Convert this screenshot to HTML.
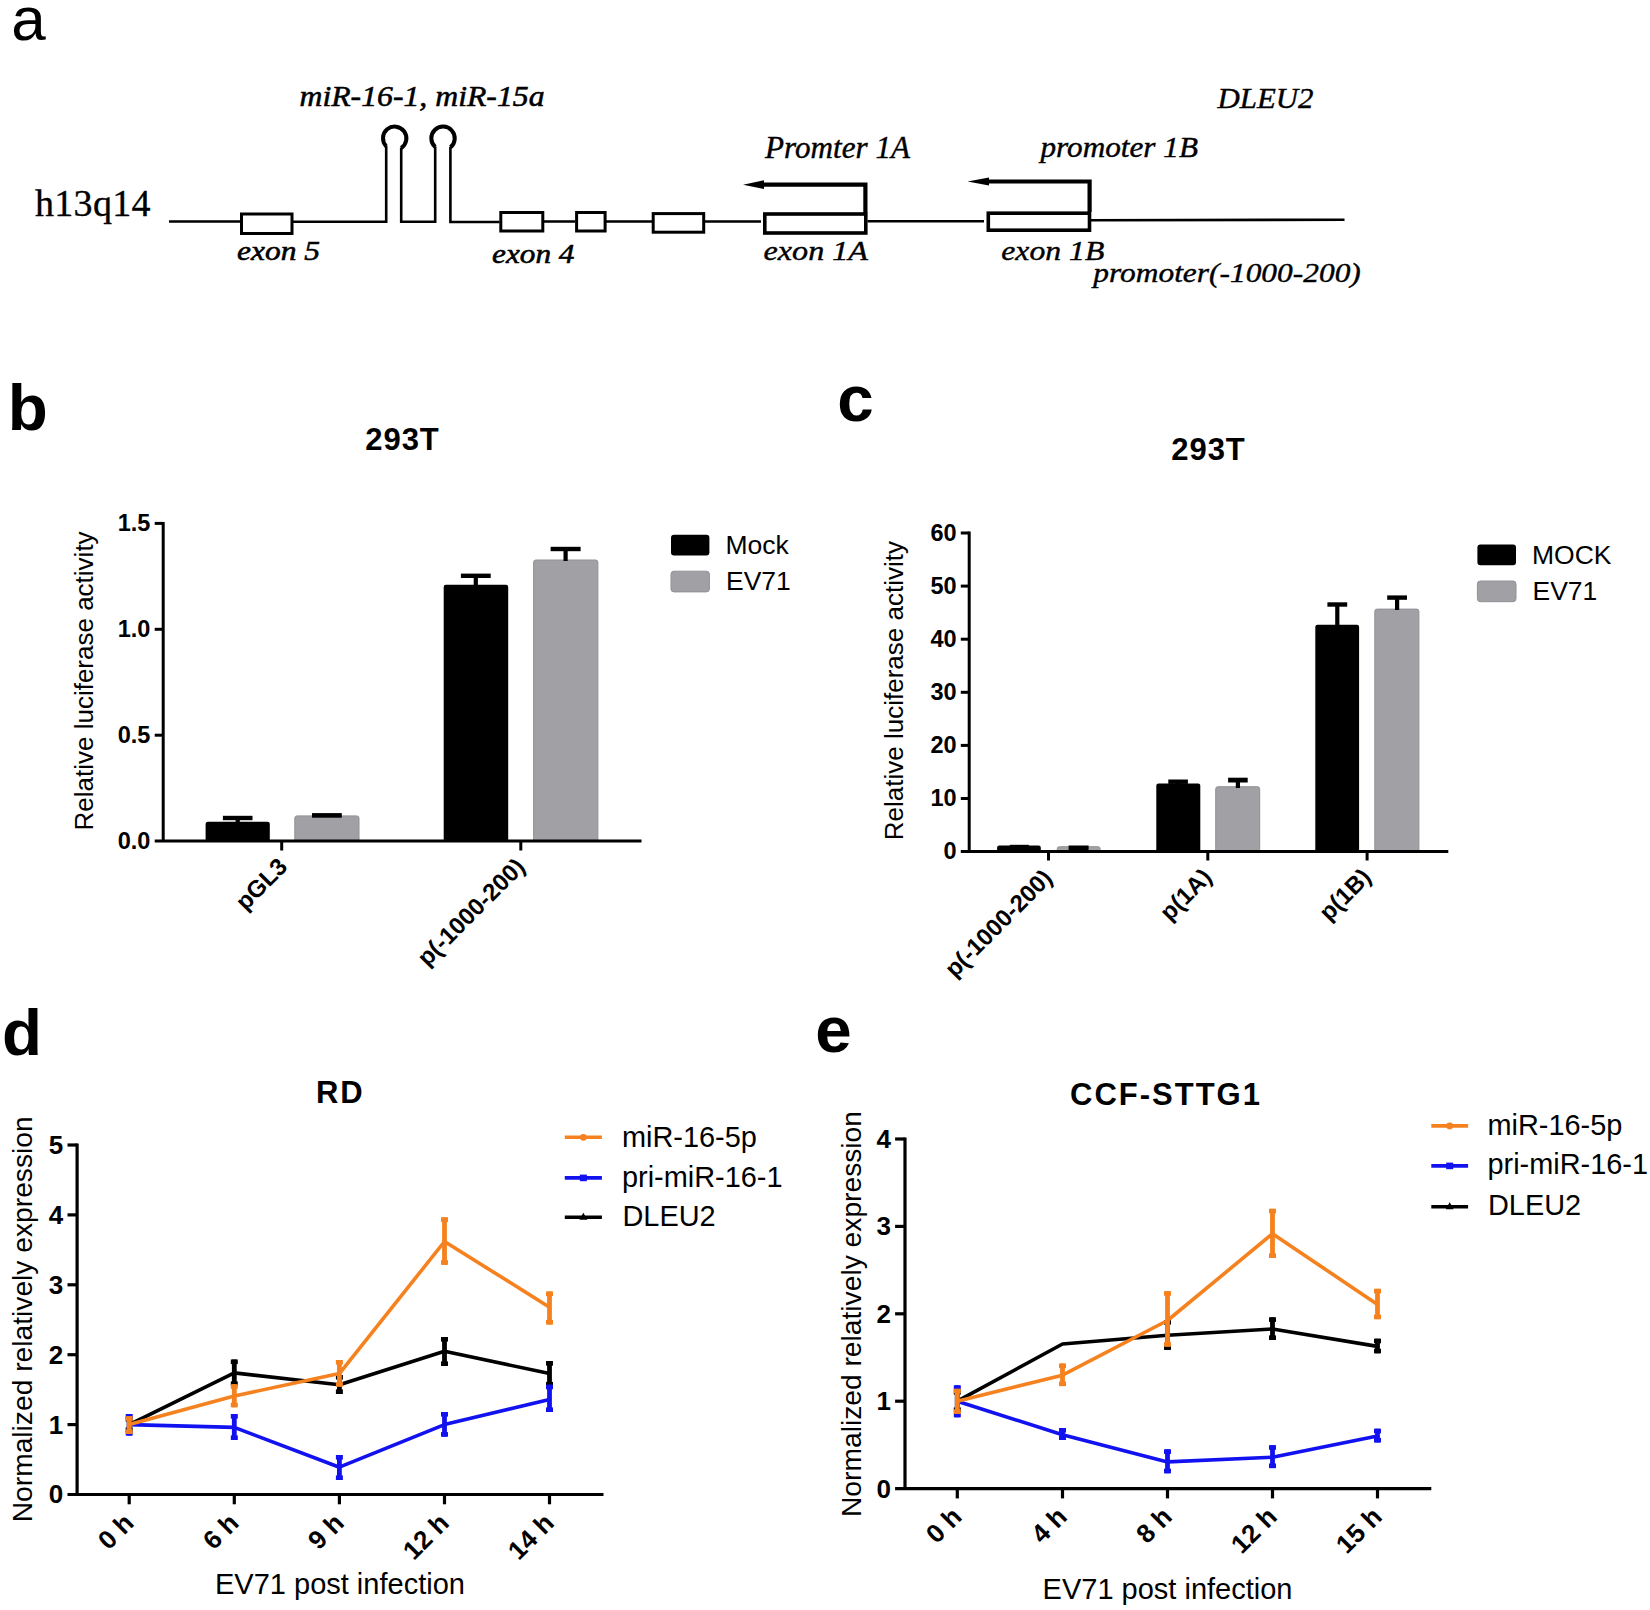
<!DOCTYPE html>
<html lang="en"><head><meta charset="utf-8"><title>Figure</title>
<style>
html,body{margin:0;padding:0;background:#fff}
svg{display:block}
text{fill:#000}
</style></head><body>
<svg width="1650" height="1610" viewBox="0 0 1650 1610">
<rect width="1650" height="1610" fill="#fff"/>
<text x="11.2" y="40" font-family="Liberation Sans, Arial, sans-serif" font-size="62" font-weight="normal" text-anchor="start" >a</text>
<text x="7.8" y="429.8" font-family="Liberation Sans, Arial, sans-serif" font-size="65.5" font-weight="bold" text-anchor="start" >b</text>
<text x="837.3" y="421.2" font-family="Liberation Sans, Arial, sans-serif" font-size="65.5" font-weight="bold" text-anchor="start" >c</text>
<text x="2.1" y="1054.9" font-family="Liberation Sans, Arial, sans-serif" font-size="65.5" font-weight="bold" text-anchor="start" >d</text>
<text x="815.2" y="1052.2" font-family="Liberation Sans, Arial, sans-serif" font-size="65.5" font-weight="bold" text-anchor="start" >e</text>
<g stroke="#000" fill="none" stroke-width="2.6">
<path d="M169 221.5H240M293 221.8H386.2V146M401.2 147.5V221.8H435.2V146.5M450.4 147V222H499.5M544 221.5H575M606 221.5H652M705 221.5H761M867.5 221.3H984M1091 220.3L1344.5 219.7"/>
</g>
<g stroke="#000" fill="none" stroke-width="3">
<path d="M386.2 146.3A11.7 11.7 0 1 1 401.2 148" stroke-width="4"/>
<path d="M435.2 147A11.7 11.7 0 1 1 450.4 147.4" stroke-width="4"/>
<rect x="241.5" y="214" width="50.5" height="19.5"/>
<rect x="500.8" y="212.5" width="42" height="18.5"/>
<rect x="576.6" y="212.5" width="28.5" height="18.5"/>
<rect x="653.2" y="213.6" width="50.5" height="18.6"/>
</g>
<g stroke="#000" fill="none" stroke-width="3.6">
<rect x="764.8" y="214" width="101" height="19"/>
<rect x="988.3" y="213.2" width="101.2" height="17"/>
</g>
<g stroke="#000" fill="none" stroke-width="4.2" stroke-linejoin="miter">
<path d="M760 184.7H865.4V213"/>
<path d="M985 181.5H1089.6V212"/>
</g>
<path d="M743 184.7L764 180.3V189.1Z" fill="#000"/>
<path d="M967.5 181.5L989 177.5V185.5Z" fill="#000"/>
<text x="35" y="215.5" font-family="Liberation Serif, Times New Roman, serif" font-size="38" font-weight="normal" text-anchor="start" textLength="115.5" lengthAdjust="spacing" stroke="#000" stroke-width="0.35">h13q14</text>
<text x="299.5" y="106.0" font-family="Liberation Serif, Times New Roman, serif" font-size="29" font-weight="normal" text-anchor="start" textLength="245" lengthAdjust="spacingAndGlyphs" font-style="italic" stroke="#000" stroke-width="0.55">miR-16-1, miR-15a</text>
<text x="237" y="259.9" font-family="Liberation Serif, Times New Roman, serif" font-size="26.8" font-weight="normal" text-anchor="start" textLength="83" lengthAdjust="spacingAndGlyphs" font-style="italic" stroke="#000" stroke-width="0.55">exon 5</text>
<text x="492" y="262.8" font-family="Liberation Serif, Times New Roman, serif" font-size="26.8" font-weight="normal" text-anchor="start" textLength="82.5" lengthAdjust="spacingAndGlyphs" font-style="italic" stroke="#000" stroke-width="0.55">exon 4</text>
<text x="765" y="157.8" font-family="Liberation Serif, Times New Roman, serif" font-size="30.5" font-weight="normal" text-anchor="start" textLength="145" lengthAdjust="spacingAndGlyphs" font-style="italic" stroke="#000" stroke-width="0.4">Promter 1A</text>
<text x="763.5" y="260.3" font-family="Liberation Serif, Times New Roman, serif" font-size="27.5" font-weight="normal" text-anchor="start" textLength="104.5" lengthAdjust="spacingAndGlyphs" font-style="italic" stroke="#000" stroke-width="0.4">exon 1A</text>
<text x="1040.5" y="157" font-family="Liberation Serif, Times New Roman, serif" font-size="29" font-weight="normal" text-anchor="start" textLength="157.5" lengthAdjust="spacingAndGlyphs" font-style="italic" stroke="#000" stroke-width="0.4">promoter 1B</text>
<text x="1217.5" y="107.5" font-family="Liberation Serif, Times New Roman, serif" font-size="29.5" font-weight="normal" text-anchor="start" textLength="96" lengthAdjust="spacingAndGlyphs" font-style="italic" stroke="#000" stroke-width="0.4">DLEU2</text>
<text x="1001.3" y="259.6" font-family="Liberation Serif, Times New Roman, serif" font-size="28" font-weight="normal" text-anchor="start" textLength="103" lengthAdjust="spacingAndGlyphs" font-style="italic" stroke="#000" stroke-width="0.4">exon 1B</text>
<text x="1093.3" y="282.4" font-family="Liberation Serif, Times New Roman, serif" font-size="28" font-weight="normal" text-anchor="start" textLength="267.5" lengthAdjust="spacingAndGlyphs" font-style="italic" stroke="#000" stroke-width="0.4">promoter(-1000-200)</text>
<text x="150.3" y="848.9" font-family="Liberation Sans, Arial, sans-serif" font-size="23.5" font-weight="bold" text-anchor="end" >0.0</text>
<text x="150.3" y="743.0" font-family="Liberation Sans, Arial, sans-serif" font-size="23.5" font-weight="bold" text-anchor="end" >0.5</text>
<text x="150.3" y="637.0999999999999" font-family="Liberation Sans, Arial, sans-serif" font-size="23.5" font-weight="bold" text-anchor="end" >1.0</text>
<text x="150.3" y="531.1999999999999" font-family="Liberation Sans, Arial, sans-serif" font-size="23.5" font-weight="bold" text-anchor="end" >1.5</text>
<path d="M205.6 841.1V823.9000000000001Q205.6 821.7 207.79999999999998 821.7H267.6Q269.8 821.7 269.8 823.9000000000001V841.1Z" fill="#000"/>
<path d="M294.8 841.1V818.1Q294.8 815.9 297.0 815.9H356.8Q359 815.9 359 818.1V841.1Z" fill="#a1a0a5" stroke="#929197" stroke-width="1"/>
<path d="M443.7 841.1V587.0Q443.7 584.8 445.9 584.8H506.0Q508.2 584.8 508.2 587.0V841.1Z" fill="#000"/>
<path d="M533.6 841.1V562.2Q533.6 560 535.8000000000001 560H595.6999999999999Q597.9 560 597.9 562.2V841.1Z" fill="#a1a0a5" stroke="#929197" stroke-width="1"/>
<rect x="222.89999999999998" y="815.8" width="29.6" height="4.4" fill="#000"/>
<rect x="235.6" y="818" width="4.2" height="4" fill="#000"/>
<rect x="312.0" y="813.1" width="29.8" height="4.6" fill="#000"/>
<rect x="324.79999999999995" y="815.4" width="4.2" height="0.6000000000000227" fill="#000"/>
<rect x="460.90000000000003" y="573.5999999999999" width="29.8" height="4.4" fill="#000"/>
<rect x="473.7" y="575.8" width="4.2" height="10.200000000000045" fill="#000"/>
<rect x="550.6" y="546.8" width="30" height="4.4" fill="#000"/>
<rect x="563.5" y="549" width="4.2" height="12" fill="#000"/>
<g stroke="#000" stroke-width="3" fill="none">
<path d="M163.2 521.9V841.1"/>
<path d="M154.7 841.1H641.5"/>
<path d="M154.7 735.2H163.2"/>
<path d="M154.7 629.3H163.2"/>
<path d="M154.7 523.4H163.2"/>
<path d="M281.7 841.1V850.5"/>
<path d="M520.8 841.1V850.5"/>
</g>
<text x="402" y="450" font-family="Liberation Sans, Arial, sans-serif" font-size="31" font-weight="bold" text-anchor="middle" textLength="73.5" lengthAdjust="spacing" >293T</text>
<text x="0" y="0" transform="translate(93.1 830.5) rotate(-90)" font-family="Liberation Sans, Arial, sans-serif" font-size="26" font-weight="normal" text-anchor="start" >Relative luciferase activity</text>
<text x="0" y="0" transform="translate(288.8 868) rotate(-45)" font-family="Liberation Sans, Arial, sans-serif" font-size="24" font-weight="bold" text-anchor="end" >pGL3</text>
<text x="0" y="0" transform="translate(526.3 868.3) rotate(-45)" font-family="Liberation Sans, Arial, sans-serif" font-size="24" font-weight="bold" text-anchor="end" >p(-1000-200)</text>
<rect x="671" y="534.8" width="38.4" height="20.7" rx="3" fill="#000"/>
<rect x="671" y="571.2" width="38.4" height="20.7" rx="3" fill="#a1a0a5" stroke="#929197" stroke-width="1"/>
<text x="725.5" y="553.6" font-family="Liberation Sans, Arial, sans-serif" font-size="26.5" font-weight="normal" text-anchor="start" >Mock</text>
<text x="726" y="590.3" font-family="Liberation Sans, Arial, sans-serif" font-size="26.5" font-weight="normal" text-anchor="start" >EV71</text>
<text x="956.7" y="859.4" font-family="Liberation Sans, Arial, sans-serif" font-size="23.5" font-weight="bold" text-anchor="end" >0</text>
<text x="956.7" y="806.3" font-family="Liberation Sans, Arial, sans-serif" font-size="23.5" font-weight="bold" text-anchor="end" >10</text>
<text x="956.7" y="753.1999999999999" font-family="Liberation Sans, Arial, sans-serif" font-size="23.5" font-weight="bold" text-anchor="end" >20</text>
<text x="956.7" y="700.0999999999999" font-family="Liberation Sans, Arial, sans-serif" font-size="23.5" font-weight="bold" text-anchor="end" >30</text>
<text x="956.7" y="647.0" font-family="Liberation Sans, Arial, sans-serif" font-size="23.5" font-weight="bold" text-anchor="end" >40</text>
<text x="956.7" y="593.9" font-family="Liberation Sans, Arial, sans-serif" font-size="23.5" font-weight="bold" text-anchor="end" >50</text>
<text x="956.7" y="540.8" font-family="Liberation Sans, Arial, sans-serif" font-size="23.5" font-weight="bold" text-anchor="end" >60</text>
<path d="M997.1 851.6V847.8000000000001Q997.1 845.6 999.3000000000001 845.6H1038.6Q1040.8 845.6 1040.8 847.8000000000001V851.6Z" fill="#000"/>
<path d="M1057.2 851.6V848.9000000000001Q1057.2 846.7 1059.4 846.7H1098.0Q1100.2 846.7 1100.2 848.9000000000001V851.6Z" fill="#a1a0a5" stroke="#929197" stroke-width="1"/>
<path d="M1156.3 851.6V785.7Q1156.3 783.5 1158.5 783.5H1198.1Q1200.3 783.5 1200.3 785.7V851.6Z" fill="#000"/>
<path d="M1215.7 851.6V788.9000000000001Q1215.7 786.7 1217.9 786.7H1257.5Q1259.7 786.7 1259.7 788.9000000000001V851.6Z" fill="#a1a0a5" stroke="#929197" stroke-width="1"/>
<path d="M1315.3 851.6V627.0Q1315.3 624.8 1317.5 624.8H1356.8999999999999Q1359.1 624.8 1359.1 627.0V851.6Z" fill="#000"/>
<path d="M1374.8 851.6V611.3000000000001Q1374.8 609.1 1377.0 609.1H1416.7Q1418.9 609.1 1418.9 611.3000000000001V851.6Z" fill="#a1a0a5" stroke="#929197" stroke-width="1"/>
<rect x="1009.8" y="844.8" width="19.0" height="3" fill="#000"/>
<rect x="1068.6" y="845.5" width="20" height="4.6" fill="#000"/>
<rect x="1168.3" y="779.5" width="19.6" height="4.4" fill="#000"/>
<rect x="1176.0" y="781.7" width="4.2" height="2.2999999999999545" fill="#000"/>
<rect x="1228.1000000000001" y="777.7" width="19.6" height="4.8" fill="#000"/>
<rect x="1235.8000000000002" y="780.1" width="4.2" height="7.899999999999977" fill="#000"/>
<rect x="1327.3999999999999" y="602.3" width="19.8" height="4.4" fill="#000"/>
<rect x="1335.2" y="604.5" width="4.2" height="21.5" fill="#000"/>
<rect x="1387.1999999999998" y="595.4" width="19.8" height="4.4" fill="#000"/>
<rect x="1395.0" y="597.6" width="4.2" height="12.399999999999977" fill="#000"/>
<g stroke="#000" stroke-width="3" fill="none">
<path d="M969.2 531.5V851.6"/>
<path d="M960.8 851.6H1448.3"/>
<path d="M960.8 798.5H969.2"/>
<path d="M960.8 745.4H969.2"/>
<path d="M960.8 692.3H969.2"/>
<path d="M960.8 639.2H969.2"/>
<path d="M960.8 586.1H969.2"/>
<path d="M960.8 533.0H969.2"/>
<path d="M1048.5 851.6V860.5"/>
<path d="M1207.8 851.6V860.5"/>
<path d="M1367.1 851.6V860.5"/>
</g>
<text x="1208" y="460" font-family="Liberation Sans, Arial, sans-serif" font-size="31" font-weight="bold" text-anchor="middle" textLength="73.5" lengthAdjust="spacing" >293T</text>
<text x="0" y="0" transform="translate(903.1 840.2) rotate(-90)" font-family="Liberation Sans, Arial, sans-serif" font-size="26" font-weight="normal" text-anchor="start" >Relative luciferase activity</text>
<text x="0" y="0" transform="translate(1053.7 879.5) rotate(-45)" font-family="Liberation Sans, Arial, sans-serif" font-size="24" font-weight="bold" text-anchor="end" >p(-1000-200)</text>
<text x="0" y="0" transform="translate(1213.2 878.6) rotate(-45)" font-family="Liberation Sans, Arial, sans-serif" font-size="24" font-weight="bold" text-anchor="end" >p(1A)</text>
<text x="0" y="0" transform="translate(1372.3 878.6) rotate(-45)" font-family="Liberation Sans, Arial, sans-serif" font-size="24" font-weight="bold" text-anchor="end" >p(1B)</text>
<rect x="1477.4" y="544.5" width="38.6" height="20.7" rx="3" fill="#000"/>
<rect x="1477.4" y="581" width="38.6" height="20.7" rx="3" fill="#a1a0a5" stroke="#929197" stroke-width="1"/>
<text x="1532" y="563.6" font-family="Liberation Sans, Arial, sans-serif" font-size="26.5" font-weight="normal" text-anchor="start" >MOCK</text>
<text x="1532.5" y="600" font-family="Liberation Sans, Arial, sans-serif" font-size="26.5" font-weight="normal" text-anchor="start" >EV71</text>
<g stroke="#000" stroke-width="3.2" fill="none">
<path d="M77.1 1143.4V1494.5"/>
<path d="M67.5 1494.5H603.5"/>
<path d="M67.5 1424.6H77.1"/>
<path d="M67.5 1354.7H77.1"/>
<path d="M67.5 1284.8H77.1"/>
<path d="M67.5 1214.9H77.1"/>
<path d="M67.5 1145.0H77.1"/>
<path d="M129.2 1494.5V1504.3"/>
<path d="M234.3 1494.5V1504.3"/>
<path d="M339.4 1494.5V1504.3"/>
<path d="M444.5 1494.5V1504.3"/>
<path d="M549.5 1494.5V1504.3"/>
</g>
<text x="63.3" y="1503.4" font-family="Liberation Sans, Arial, sans-serif" font-size="26" font-weight="bold" text-anchor="end" >0</text>
<text x="63.3" y="1433.5" font-family="Liberation Sans, Arial, sans-serif" font-size="26" font-weight="bold" text-anchor="end" >1</text>
<text x="63.3" y="1363.6000000000001" font-family="Liberation Sans, Arial, sans-serif" font-size="26" font-weight="bold" text-anchor="end" >2</text>
<text x="63.3" y="1293.7" font-family="Liberation Sans, Arial, sans-serif" font-size="26" font-weight="bold" text-anchor="end" >3</text>
<text x="63.3" y="1223.8000000000002" font-family="Liberation Sans, Arial, sans-serif" font-size="26" font-weight="bold" text-anchor="end" >4</text>
<text x="63.3" y="1153.9" font-family="Liberation Sans, Arial, sans-serif" font-size="26" font-weight="bold" text-anchor="end" >5</text>
<rect x="126.79999999999998" y="1417" width="4.8" height="15" fill="#000"/>
<rect x="125.69999999999999" y="1417" width="7" height="4.6" fill="#000"/>
<rect x="125.69999999999999" y="1427.4" width="7" height="4.6" fill="#000"/>
<rect x="231.9" y="1359.5" width="4.8" height="26.5" fill="#000"/>
<rect x="230.8" y="1359.5" width="7" height="4.6" fill="#000"/>
<rect x="230.8" y="1381.4" width="7" height="4.6" fill="#000"/>
<rect x="337.0" y="1375" width="4.8" height="19" fill="#000"/>
<rect x="335.9" y="1375" width="7" height="4.6" fill="#000"/>
<rect x="335.9" y="1389.4" width="7" height="4.6" fill="#000"/>
<rect x="442.1" y="1337" width="4.8" height="29" fill="#000"/>
<rect x="441.0" y="1337" width="7" height="4.6" fill="#000"/>
<rect x="441.0" y="1361.4" width="7" height="4.6" fill="#000"/>
<rect x="547.1" y="1361" width="4.8" height="25.5" fill="#000"/>
<rect x="546.0" y="1361" width="7" height="4.6" fill="#000"/>
<rect x="546.0" y="1381.9" width="7" height="4.6" fill="#000"/>
<polyline points="129.2,1424.6 234.3,1372.9 339.4,1384.8 444.5,1351.2 549.5,1373.6" fill="none" stroke="#000" stroke-width="3.6" stroke-linejoin="round"/>
<rect x="126.79999999999998" y="1414" width="4.8" height="21.59999999999991" fill="#1212f0"/>
<rect x="125.69999999999999" y="1414" width="7" height="4.6" fill="#1212f0"/>
<rect x="125.69999999999999" y="1431.0" width="7" height="4.6" fill="#1212f0"/>
<rect x="231.9" y="1414" width="4.8" height="26" fill="#1212f0"/>
<rect x="230.8" y="1414" width="7" height="4.6" fill="#1212f0"/>
<rect x="230.8" y="1435.4" width="7" height="4.6" fill="#1212f0"/>
<rect x="337.0" y="1455" width="4.8" height="25" fill="#1212f0"/>
<rect x="335.9" y="1455" width="7" height="4.6" fill="#1212f0"/>
<rect x="335.9" y="1475.4" width="7" height="4.6" fill="#1212f0"/>
<rect x="442.1" y="1412" width="4.8" height="24.700000000000045" fill="#1212f0"/>
<rect x="441.0" y="1412" width="7" height="4.6" fill="#1212f0"/>
<rect x="441.0" y="1432.1000000000001" width="7" height="4.6" fill="#1212f0"/>
<rect x="547.1" y="1384.7" width="4.8" height="27.299999999999955" fill="#1212f0"/>
<rect x="546.0" y="1384.7" width="7" height="4.6" fill="#1212f0"/>
<rect x="546.0" y="1407.4" width="7" height="4.6" fill="#1212f0"/>
<polyline points="129.2,1424.6 234.3,1427.4 339.4,1467.2 444.5,1424.6 549.5,1399.4" fill="none" stroke="#1212f0" stroke-width="3.6" stroke-linejoin="round"/>
<rect x="126.79999999999998" y="1416.2" width="4.8" height="17.799999999999955" fill="#f5821f"/>
<rect x="125.69999999999999" y="1416.2" width="7" height="4.6" fill="#f5821f"/>
<rect x="125.69999999999999" y="1429.4" width="7" height="4.6" fill="#f5821f"/>
<rect x="231.9" y="1384.2" width="4.8" height="23.09999999999991" fill="#f5821f"/>
<rect x="230.8" y="1384.2" width="7" height="4.6" fill="#f5821f"/>
<rect x="230.8" y="1402.7" width="7" height="4.6" fill="#f5821f"/>
<rect x="337.0" y="1360" width="4.8" height="26.700000000000045" fill="#f5821f"/>
<rect x="335.9" y="1360" width="7" height="4.6" fill="#f5821f"/>
<rect x="335.9" y="1382.1000000000001" width="7" height="4.6" fill="#f5821f"/>
<rect x="442.1" y="1217.3" width="4.8" height="47.5" fill="#f5821f"/>
<rect x="441.0" y="1217.3" width="7" height="4.6" fill="#f5821f"/>
<rect x="441.0" y="1260.2" width="7" height="4.6" fill="#f5821f"/>
<rect x="547.1" y="1291.5" width="4.8" height="33.0" fill="#f5821f"/>
<rect x="546.0" y="1291.5" width="7" height="4.6" fill="#f5821f"/>
<rect x="546.0" y="1319.9" width="7" height="4.6" fill="#f5821f"/>
<polyline points="129.2,1424.6 234.3,1395.9 339.4,1373.6 444.5,1241.5 549.5,1307.2" fill="none" stroke="#f5821f" stroke-width="3.6" stroke-linejoin="round"/>
<text x="339.3" y="1103.2" font-family="Liberation Sans, Arial, sans-serif" font-size="31" font-weight="bold" text-anchor="middle" textLength="46.5" lengthAdjust="spacing" >RD</text>
<text x="0" y="0" transform="translate(31.8 1522.3) rotate(-90)" font-family="Liberation Sans, Arial, sans-serif" font-size="28.5" font-weight="normal" text-anchor="start" textLength="406" lengthAdjust="spacingAndGlyphs" >Normalized relatively expression</text>
<text x="215" y="1594.2" font-family="Liberation Sans, Arial, sans-serif" font-size="29" font-weight="normal" text-anchor="start" >EV71 post infection</text>
<text x="0" y="0" transform="translate(135.2 1524.5) rotate(-45)" font-family="Liberation Sans, Arial, sans-serif" font-size="26" font-weight="bold" text-anchor="end" >0 h</text>
<text x="0" y="0" transform="translate(240.3 1524.5) rotate(-45)" font-family="Liberation Sans, Arial, sans-serif" font-size="26" font-weight="bold" text-anchor="end" >6 h</text>
<text x="0" y="0" transform="translate(345.4 1524.5) rotate(-45)" font-family="Liberation Sans, Arial, sans-serif" font-size="26" font-weight="bold" text-anchor="end" >9 h</text>
<text x="0" y="0" transform="translate(450.5 1524.5) rotate(-45)" font-family="Liberation Sans, Arial, sans-serif" font-size="26" font-weight="bold" text-anchor="end" >12 h</text>
<text x="0" y="0" transform="translate(555.5 1524.5) rotate(-45)" font-family="Liberation Sans, Arial, sans-serif" font-size="26" font-weight="bold" text-anchor="end" >14 h</text>
<path d="M564.8 1137.3H601.9" stroke="#f5821f" stroke-width="3.6"/>
<circle cx="583.3499999999999" cy="1137.3" r="3.4" fill="#f5821f"/>
<path d="M564.8 1177.9H601.9" stroke="#1212f0" stroke-width="3.6"/>
<rect x="579.8499999999999" y="1174.6000000000001" width="7" height="6.6" fill="#1212f0"/>
<path d="M564.8 1217.3H601.9" stroke="#000" stroke-width="3.6"/>
<path d="M583.3499999999999 1212.8L587.3499999999999 1219.8H579.3499999999999Z" fill="#000"/>
<text x="622" y="1146.7" font-family="Liberation Sans, Arial, sans-serif" font-size="28.9" font-weight="normal" text-anchor="start" >miR-16-5p</text>
<text x="622" y="1186.7" font-family="Liberation Sans, Arial, sans-serif" font-size="28.9" font-weight="normal" text-anchor="start" >pri-miR-16-1</text>
<text x="622.5" y="1226.1" font-family="Liberation Sans, Arial, sans-serif" font-size="28.9" font-weight="normal" text-anchor="start" >DLEU2</text>
<g stroke="#000" stroke-width="3.2" fill="none">
<path d="M905.0 1137.4V1488.6"/>
<path d="M895.1 1488.6H1431.3"/>
<path d="M895.1 1401.1999999999998H905.0"/>
<path d="M895.1 1313.8H905.0"/>
<path d="M895.1 1226.3999999999999H905.0"/>
<path d="M895.1 1139.0H905.0"/>
<path d="M957.3 1488.6V1498.3999999999999"/>
<path d="M1062.5 1488.6V1498.3999999999999"/>
<path d="M1167.5 1488.6V1498.3999999999999"/>
<path d="M1272.5 1488.6V1498.3999999999999"/>
<path d="M1377.5 1488.6V1498.3999999999999"/>
</g>
<text x="890.9" y="1497.5" font-family="Liberation Sans, Arial, sans-serif" font-size="26" font-weight="bold" text-anchor="end" >0</text>
<text x="890.9" y="1410.1" font-family="Liberation Sans, Arial, sans-serif" font-size="26" font-weight="bold" text-anchor="end" >1</text>
<text x="890.9" y="1322.7" font-family="Liberation Sans, Arial, sans-serif" font-size="26" font-weight="bold" text-anchor="end" >2</text>
<text x="890.9" y="1235.3" font-family="Liberation Sans, Arial, sans-serif" font-size="26" font-weight="bold" text-anchor="end" >3</text>
<text x="890.9" y="1147.9" font-family="Liberation Sans, Arial, sans-serif" font-size="26" font-weight="bold" text-anchor="end" >4</text>
<rect x="954.9" y="1390" width="4.8" height="22" fill="#000"/>
<rect x="953.8" y="1390" width="7" height="4.6" fill="#000"/>
<rect x="953.8" y="1407.4" width="7" height="4.6" fill="#000"/>
<rect x="1165.1" y="1320" width="4.8" height="29.90000000000009" fill="#000"/>
<rect x="1164.0" y="1320" width="7" height="4.6" fill="#000"/>
<rect x="1164.0" y="1345.3000000000002" width="7" height="4.6" fill="#000"/>
<rect x="1270.1" y="1317.3" width="4.8" height="22.700000000000045" fill="#000"/>
<rect x="1269.0" y="1317.3" width="7" height="4.6" fill="#000"/>
<rect x="1269.0" y="1335.4" width="7" height="4.6" fill="#000"/>
<rect x="1375.1" y="1338.7" width="4.8" height="14.599999999999909" fill="#000"/>
<rect x="1374.0" y="1338.7" width="7" height="4.6" fill="#000"/>
<rect x="1374.0" y="1348.7" width="7" height="4.6" fill="#000"/>
<polyline points="957.3,1401.2 1062.5,1344.0 1167.5,1335.2 1272.5,1329.0 1377.5,1346.4" fill="none" stroke="#000" stroke-width="3.6" stroke-linejoin="round"/>
<rect x="954.9" y="1385.3" width="4.8" height="32.0" fill="#1212f0"/>
<rect x="953.8" y="1385.3" width="7" height="4.6" fill="#1212f0"/>
<rect x="953.8" y="1412.7" width="7" height="4.6" fill="#1212f0"/>
<rect x="1060.1" y="1428" width="4.8" height="12" fill="#1212f0"/>
<rect x="1059.0" y="1428" width="7" height="4.6" fill="#1212f0"/>
<rect x="1059.0" y="1435.4" width="7" height="4.6" fill="#1212f0"/>
<rect x="1165.1" y="1449.3" width="4.8" height="24.0" fill="#1212f0"/>
<rect x="1164.0" y="1449.3" width="7" height="4.6" fill="#1212f0"/>
<rect x="1164.0" y="1468.7" width="7" height="4.6" fill="#1212f0"/>
<rect x="1270.1" y="1445.2" width="4.8" height="22.899999999999864" fill="#1212f0"/>
<rect x="1269.0" y="1445.2" width="7" height="4.6" fill="#1212f0"/>
<rect x="1269.0" y="1463.5" width="7" height="4.6" fill="#1212f0"/>
<rect x="1375.1" y="1428.7" width="4.8" height="13.799999999999955" fill="#1212f0"/>
<rect x="1374.0" y="1428.7" width="7" height="4.6" fill="#1212f0"/>
<rect x="1374.0" y="1437.9" width="7" height="4.6" fill="#1212f0"/>
<polyline points="957.3,1401.2 1062.5,1434.7 1167.5,1461.9 1272.5,1457.3 1377.5,1435.9" fill="none" stroke="#1212f0" stroke-width="3.6" stroke-linejoin="round"/>
<rect x="954.9" y="1388.8" width="4.8" height="25.100000000000136" fill="#f5821f"/>
<rect x="953.8" y="1388.8" width="7" height="4.6" fill="#f5821f"/>
<rect x="953.8" y="1409.3000000000002" width="7" height="4.6" fill="#f5821f"/>
<rect x="1060.1" y="1363.5" width="4.8" height="22.59999999999991" fill="#f5821f"/>
<rect x="1059.0" y="1363.5" width="7" height="4.6" fill="#f5821f"/>
<rect x="1059.0" y="1381.5" width="7" height="4.6" fill="#f5821f"/>
<rect x="1165.1" y="1291.2" width="4.8" height="55.5" fill="#f5821f"/>
<rect x="1164.0" y="1291.2" width="7" height="4.6" fill="#f5821f"/>
<rect x="1164.0" y="1342.1000000000001" width="7" height="4.6" fill="#f5821f"/>
<rect x="1270.1" y="1208.8" width="4.8" height="49.100000000000136" fill="#f5821f"/>
<rect x="1269.0" y="1208.8" width="7" height="4.6" fill="#f5821f"/>
<rect x="1269.0" y="1253.3000000000002" width="7" height="4.6" fill="#f5821f"/>
<rect x="1375.1" y="1288.8" width="4.8" height="30.40000000000009" fill="#f5821f"/>
<rect x="1374.0" y="1288.8" width="7" height="4.6" fill="#f5821f"/>
<rect x="1374.0" y="1314.6000000000001" width="7" height="4.6" fill="#f5821f"/>
<polyline points="957.3,1401.2 1062.5,1375.2 1167.5,1320.5 1272.5,1233.7 1377.5,1304.5" fill="none" stroke="#f5821f" stroke-width="3.6" stroke-linejoin="round"/>
<text x="1165" y="1104.9" font-family="Liberation Sans, Arial, sans-serif" font-size="31" font-weight="bold" text-anchor="middle" textLength="190" lengthAdjust="spacing" >CCF-STTG1</text>
<text x="0" y="0" transform="translate(860.8 1517) rotate(-90)" font-family="Liberation Sans, Arial, sans-serif" font-size="28.5" font-weight="normal" text-anchor="start" textLength="406" lengthAdjust="spacingAndGlyphs" >Normalized relatively expression</text>
<text x="1042.6" y="1598.5" font-family="Liberation Sans, Arial, sans-serif" font-size="29" font-weight="normal" text-anchor="start" >EV71 post infection</text>
<text x="0" y="0" transform="translate(963.3 1518.2) rotate(-45)" font-family="Liberation Sans, Arial, sans-serif" font-size="26" font-weight="bold" text-anchor="end" >0 h</text>
<text x="0" y="0" transform="translate(1068.5 1518.2) rotate(-45)" font-family="Liberation Sans, Arial, sans-serif" font-size="26" font-weight="bold" text-anchor="end" >4 h</text>
<text x="0" y="0" transform="translate(1173.5 1518.2) rotate(-45)" font-family="Liberation Sans, Arial, sans-serif" font-size="26" font-weight="bold" text-anchor="end" >8 h</text>
<text x="0" y="0" transform="translate(1278.5 1518.2) rotate(-45)" font-family="Liberation Sans, Arial, sans-serif" font-size="26" font-weight="bold" text-anchor="end" >12 h</text>
<text x="0" y="0" transform="translate(1383.5 1518.2) rotate(-45)" font-family="Liberation Sans, Arial, sans-serif" font-size="26" font-weight="bold" text-anchor="end" >15 h</text>
<path d="M1431.3 1125.9H1468.1" stroke="#f5821f" stroke-width="3.6"/>
<circle cx="1449.6999999999998" cy="1125.9" r="3.4" fill="#f5821f"/>
<path d="M1431.3 1165.9H1468.1" stroke="#1212f0" stroke-width="3.6"/>
<rect x="1446.1999999999998" y="1162.6000000000001" width="7" height="6.6" fill="#1212f0"/>
<path d="M1431.3 1206.7H1468.1" stroke="#000" stroke-width="3.6"/>
<path d="M1449.6999999999998 1202.2L1453.6999999999998 1209.2H1445.6999999999998Z" fill="#000"/>
<text x="1487.5" y="1134.7" font-family="Liberation Sans, Arial, sans-serif" font-size="28.9" font-weight="normal" text-anchor="start" >miR-16-5p</text>
<text x="1487.5" y="1174.1" font-family="Liberation Sans, Arial, sans-serif" font-size="28.9" font-weight="normal" text-anchor="start" >pri-miR-16-1</text>
<text x="1488.0" y="1214.7" font-family="Liberation Sans, Arial, sans-serif" font-size="28.9" font-weight="normal" text-anchor="start" >DLEU2</text>
</svg>
</body></html>
